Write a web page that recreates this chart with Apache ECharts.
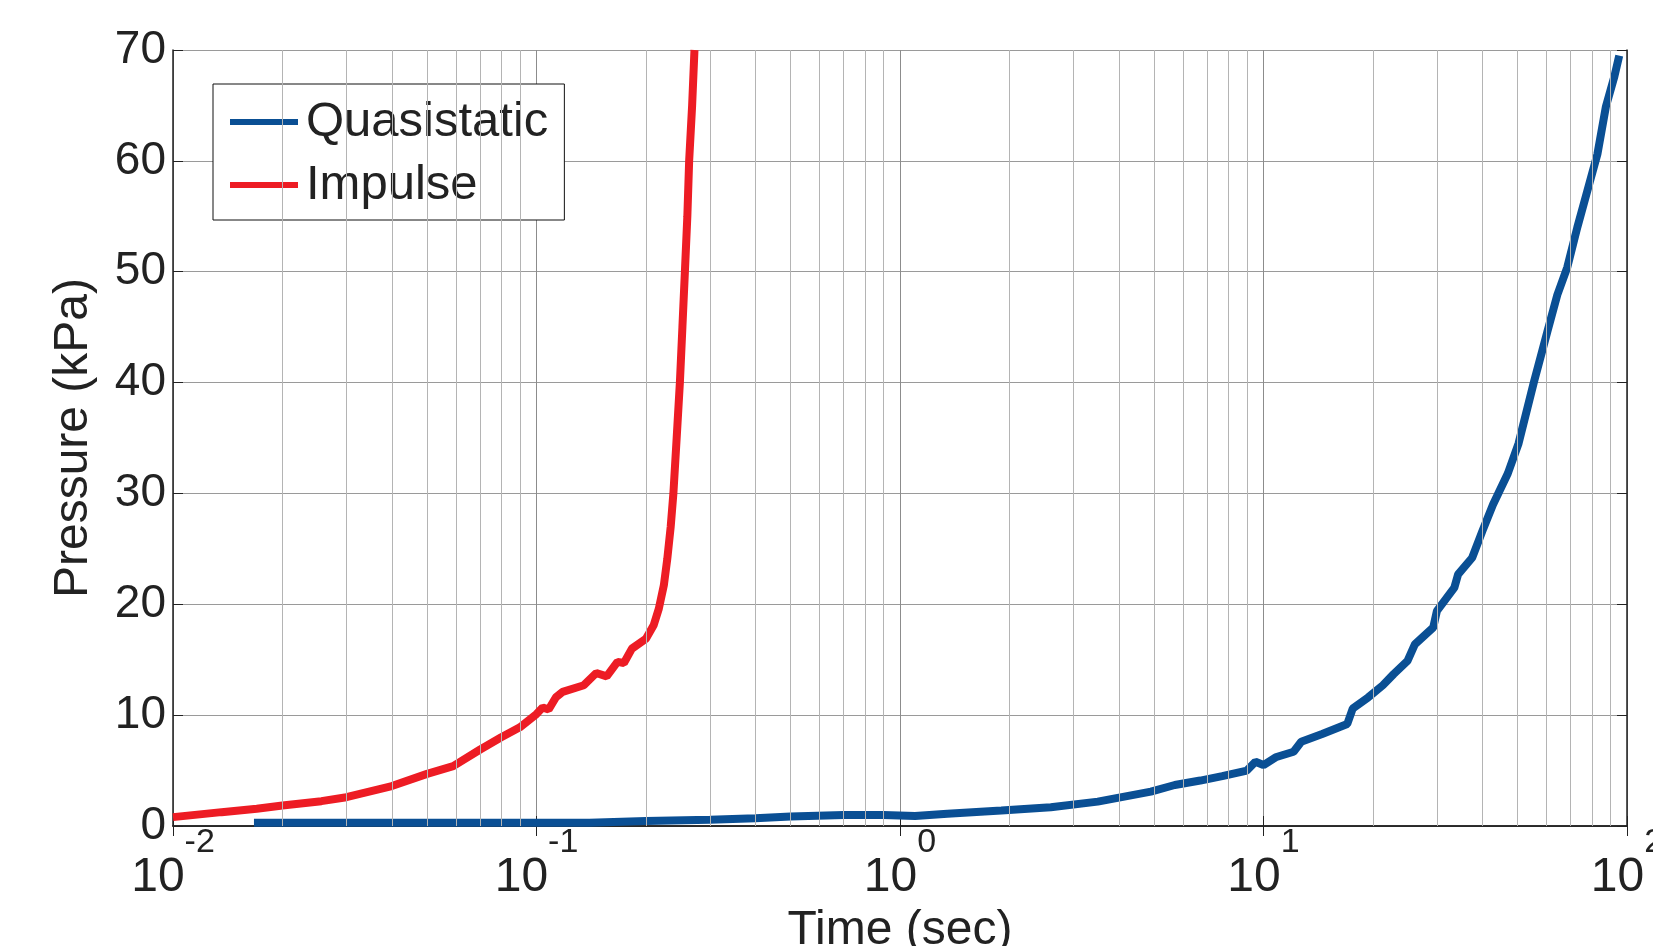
<!DOCTYPE html>
<html>
<head>
<meta charset="utf-8">
<title>Pressure vs time</title>
<script src="https://cdn.jsdelivr.net/npm/echarts@6.0.0/dist/echarts.min.js"></script>
<style>
  html, body { margin: 0; padding: 0; background: #fff; }
  #chart { width: 1653px; height: 946px; }
</style>
</head>
<body>
<div id="chart"></div>
<script>
// values (time in sec, pressure in kPa)
const quasiTime = [0.0167, 0.05, 0.1, 0.14, 0.2, 0.3, 0.4, 0.5, 0.7, 0.9, 1.1, 1.35, 1.9, 2.6, 3.5, 4.9, 5.7, 6.7, 7.7, 9.0, 9.5, 10, 10.8, 12.1, 12.7, 14.5, 17.0, 17.6, 19.4, 21.3, 22.8, 24.9, 26.1, 29.3, 30, 33.5, 34.3, 37.5, 40, 42.8, 47, 50.3, 55.5, 60.4, 64.3, 68.5, 73, 77.8, 82.9, 87.5, 92.3, 95.2];
const quasiPressure = [0.3, 0.3, 0.3, 0.3, 0.45, 0.57, 0.7, 0.85, 1.0, 1.0, 0.9, 1.1, 1.4, 1.7, 2.2, 3.1, 3.7, 4.1, 4.5, 5.0, 5.8, 5.5, 6.2, 6.7, 7.6, 8.3, 9.2, 10.6, 11.6, 12.7, 13.7, 14.9, 16.4, 17.9, 19.4, 21.5, 22.7, 24.2, 26.6, 29.0, 31.8, 34.5, 40.1, 44.6, 47.9, 50.4, 54.0, 57.3, 60.6, 64.9, 67.6, 69.5];

const impulseTime = [0.01, 0.0136, 0.017, 0.02, 0.0256, 0.03, 0.04, 0.05, 0.059, 0.07, 0.08, 0.09, 0.1, 0.104, 0.108, 0.113, 0.118, 0.135, 0.146, 0.156, 0.167, 0.174, 0.183, 0.2, 0.21, 0.217, 0.224, 0.229, 0.234, 0.238, 0.243, 0.248, 0.252, 0.256, 0.26, 0.263, 0.268, 0.272];
const impulsePressure = [0.8, 1.25, 1.55, 1.85, 2.24, 2.6, 3.6, 4.7, 5.4, 6.9, 8.0, 8.9, 10.1, 10.7, 10.5, 11.6, 12.1, 12.7, 13.8, 13.5, 14.8, 14.7, 16.0, 16.9, 18.1, 19.6, 21.7, 24.1, 27, 30, 35, 40, 45, 50, 55, 60, 65, 70];

// minor log grid lines (2..9 within each decade)
const minorGridTimes = [0.02, 0.03, 0.04, 0.05, 0.06, 0.07, 0.08, 0.09, 0.2, 0.3, 0.4, 0.5, 0.6, 0.7, 0.8, 0.9, 2, 3, 4, 5, 6, 7, 8, 9, 20, 30, 40, 50, 60, 70, 80, 90];

const xMin = 0.01;
const xMax = 100;
const yMin = 0;
const yMax = 70;
const yStep = 10;

const seriesNames = ["Quasistatic", "Impulse"];
const FONT = "'Liberation Sans', Arial, Helvetica, sans-serif";
const TEXT = "#222";

const zip = (xs, ys) => xs.map((x, i) => [x, ys[i]]);

const chart = echarts.init(document.getElementById("chart"));

const option = {
  animation: false,
  backgroundColor: "#fff",
  textStyle: { fontFamily: FONT },
  grid: {
    left: 173,
    right: 26,
    top: 50,
    bottom: 120,
    // keep the plot box fixed, labels may run to the page edge
    outerBoundsMode: "none"
  },
  legend: {
    data: seriesNames,
    orient: "vertical",
    left: 213,
    top: 84,
    icon: "rect",
    itemWidth: 68,
    itemHeight: 6,
    itemGap: 11,
    padding: [12, 16, 9, 17],
    backgroundColor: "#fff",
    borderColor: "#111",
    borderWidth: 1,
    borderRadius: 0,
    textStyle: {
      fontFamily: FONT,
      fontSize: 49,
      lineHeight: 52,
      color: TEXT,
      padding: [0, 0, 0, 3]
    }
  },
  xAxis: [
    {
      type: "log",
      logBase: 10,
      min: xMin,
      max: xMax,
      name: "Time (sec)",
      nameLocation: "middle",
      nameGap: 74,
      nameTextStyle: {
        fontFamily: FONT,
        fontSize: 48,
        color: TEXT,
        verticalAlign: "top"
      },
      axisLine: { lineStyle: { color: "#222", width: 1.5 } },
      axisTick: { inside: true, length: 10, lineStyle: { color: "#222" } },
      axisLabel: {
        showMinLabel: true,
        showMaxLabel: true,
        margin: 0,
        formatter: (v) => "{b|10}{s|" + Math.round(Math.log10(v)) + "}",
        rich: {
          b: { fontFamily: FONT, fontSize: 48, color: TEXT, lineHeight: 76, verticalAlign: "bottom" },
          s: { fontFamily: FONT, fontSize: 34, color: TEXT, lineHeight: 76, verticalAlign: "top" }
        }
      },
      splitLine: { show: true, lineStyle: { color: "#8c8c8c", width: 1 } }
    },
    {
      type: "log",
      logBase: 10,
      min: xMin,
      max: xMax,
      position: "top",
      axisLine: { lineStyle: { color: "#222", width: 1.5 } },
      axisTick: { inside: true, length: 10, lineStyle: { color: "#222" } },
      axisLabel: { show: false },
      splitLine: { show: false }
    }
  ],
  yAxis: [
    {
      type: "value",
      min: yMin,
      max: yMax,
      interval: yStep,
      name: "Pressure (kPa)",
      nameLocation: "middle",
      nameGap: 75,
      nameTextStyle: { fontFamily: FONT, fontSize: 48, color: TEXT },
      axisLine: { show: true, lineStyle: { color: "#222", width: 1.5 } },
      axisTick: { show: true, inside: true, length: 10, lineStyle: { color: "#222" } },
      axisLabel: { fontFamily: FONT, fontSize: 46, color: TEXT, margin: 7 },
      splitLine: { show: true, lineStyle: { color: "#9a9a9a", width: 1 } }
    },
    {
      type: "value",
      min: yMin,
      max: yMax,
      interval: yStep,
      position: "right",
      axisLine: { show: true, lineStyle: { color: "#222", width: 1.5 } },
      axisTick: { show: true, inside: true, length: 10, lineStyle: { color: "#222" } },
      axisLabel: { show: false },
      splitLine: { show: false }
    }
  ],
  series: [
    {
      // carries the minor grid lines only
      name: "minor-grid",
      type: "line",
      data: [],
      z: 1,
      silent: true,
      markLine: {
        silent: true,
        symbol: "none",
        animation: false,
        label: { show: false },
        lineStyle: { color: "#b4b4b4", width: 1, type: "solid" },
        data: minorGridTimes.map((t) => ({ xAxis: t }))
      }
    },
    {
      name: seriesNames[0],
      type: "line",
      data: zip(quasiTime, quasiPressure),
      showSymbol: false,
      z: 3,
      itemStyle: { color: "#0a4f94" },
      lineStyle: { color: "#0a4f94", width: 8 }
    },
    {
      name: seriesNames[1],
      type: "line",
      data: zip(impulseTime, impulsePressure),
      showSymbol: false,
      z: 3,
      itemStyle: { color: "#ed1c24" },
      lineStyle: { color: "#ed1c24", width: 8 }
    }
  ]
};

chart.setOption(option);
</script>
</body>
</html>
